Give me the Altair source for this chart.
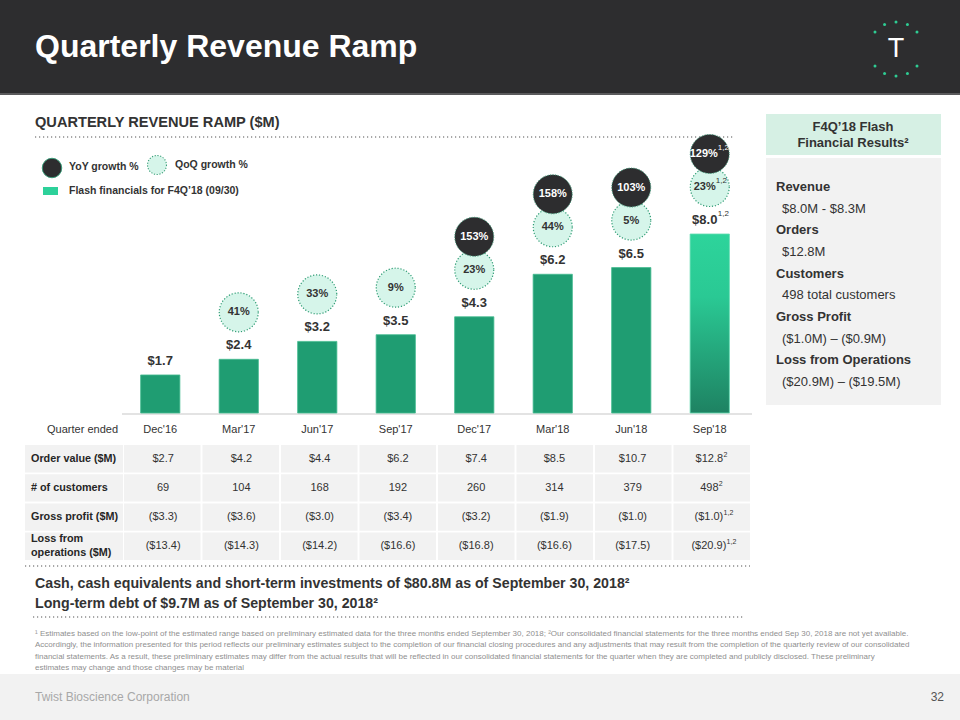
import altair as alt
import pandas as pd

FONT = "Liberation Sans"

# ---------------- data ----------------
quarters = ["Dec'16", "Mar'17", "Jun'17", "Sep'17", "Dec'17", "Mar'18", "Jun'18", "Sep'18"]
revenue = [1.7, 2.4, 3.2, 3.5, 4.3, 6.2, 6.5, 8.0]
revenue_labels = ["$1.7", "$2.4", "$3.2", "$3.5", "$4.3", "$6.2", "$6.5", "$8.0"]
flash = [False, False, False, False, False, False, False, True]

qoq_quarters = ["Mar'17", "Jun'17", "Sep'17", "Dec'17", "Mar'18", "Jun'18", "Sep'18"]
qoq_growth = ["41%", "33%", "9%", "23%", "44%", "5%", "23%"]
yoy_quarters = ["Dec'17", "Mar'18", "Jun'18", "Sep'18"]
yoy_growth = ["153%", "158%", "103%", "129%"]

row_names = ["Order value ($M)", "# of customers", "Gross profit ($M)", "Loss from\noperations ($M)"]
order_value = ["$2.7", "$4.2", "$4.4", "$6.2", "$7.4", "$8.5", "$10.7", "$12.8"]
customers = ["69", "104", "168", "192", "260", "314", "379", "498"]
gross_profit = ["($3.3)", "($3.6)", "($3.0)", "($3.4)", "($3.2)", "($1.9)", "($1.0)", "($1.0)"]
loss_ops = ["($13.4)", "($14.3)", "($14.2)", "($16.6)", "($16.8)", "($16.6)", "($17.5)", "($20.9)"]
last_col_sups = ["2", "2", "1,2", "1,2"]

panel_lines = [
    ("Revenue", True), ("$8.0M - $8.3M", False),
    ("Orders", True), ("$12.8M", False),
    ("Customers", True), ("498 total customers", False),
    ("Gross Profit", True), ("($1.0M) \u2013 ($0.9M)", False),
    ("Loss from Operations", True), ("($20.9M) \u2013 ($19.5M)", False),
]

footnotes = [
    "\u00b9 Estimates based on the low-point of the estimated range based on preliminary estimated data for the three months ended September 30, 2018; \u00b2Our consolidated financial statements for the three months ended Sep 30, 2018 are not yet available.",
    "Accordingly, the information presented for this period reflects our preliminary estimates subject to the completion of our financial closing procedures and any adjustments that may result from the completion of the quarterly review of our consolidated",
    "financial statements. As a result, these preliminary estimates may differ from the actual results that will be reflected in our consolidated financial statements for the quarter when they are completed and publicly disclosed. These preliminary",
    "estimates may change and those changes may be material",
]

logo_angles = [90, 65, 39, 115, 141, 270, 245, 219, 295, 321]

# ---------------- helpers ----------------
dummy = pd.DataFrame({"a": [0]})
SEP18 = "datum.quarter == 'Sep\\'18'"
NOT_SEP18 = "datum.quarter != 'Sep\\'18'"


def txt(s, x, y, size=11, weight="normal", color="#333333", align="left", baseline="middle", font=FONT):
    return alt.Chart(dummy).mark_text(
        text=s, align=align, baseline=baseline, fontSize=size, fontWeight=weight,
        color=color, font=font
    ).encode(x=alt.value(x), y=alt.value(y))


def box(x1, x2, y1, y2, color):
    return alt.Chart(dummy).mark_rect(color=color).encode(
        x=alt.value(x1), x2=alt.value(x2), y=alt.value(y1), y2=alt.value(y2))


def dotted(x1, x2, y):
    return alt.Chart(dummy).mark_rule(color="#8c8c8c", strokeDash=[1.2, 2.8], strokeWidth=1.3).encode(
        x=alt.value(x1), x2=alt.value(x2), y=alt.value(y))


ARIAL_W = {"$": 556, "(": 333, ")": 333, ".": 278, ",": 278}


def half_width(s, size):
    return sum(ARIAL_W.get(c, 556) for c in s) / 1000.0 * size / 2.0


rev_map = dict(zip(quarters, revenue))
bars_df = pd.DataFrame({"quarter": quarters, "revenue": revenue, "label": revenue_labels, "flash": flash})
qoq_df = pd.DataFrame({"quarter": qoq_quarters, "growth": qoq_growth,
                       "revenue": [rev_map[q] for q in qoq_quarters]})
yoy_df = pd.DataFrame({"quarter": yoy_quarters, "growth": yoy_growth,
                       "revenue": [rev_map[q] for q in yoy_quarters]})

xs = alt.Scale(domain=quarters, range=[121, 749], paddingInner=0.5, paddingOuter=0.25)
ys = alt.Scale(domain=[0, 8], range=[413, 234], zero=True, nice=False)
X = alt.X("quarter:N", scale=xs, axis=None, sort=quarters)
Y = alt.Y("revenue:Q", scale=ys, axis=None)

layers = []

# background pieces
layers.append(box(0, 960, 0, 93, "#2d2d2f"))
layers.append(box(0, 960, 93, 95, "#5a5a5c"))
layers.append(box(0, 960, 674, 720, "#f2f2f2"))
layers.append(txt("Quarterly Revenue Ramp", 35, 47, size=32, weight="bold", color="#ffffff"))

# logo
logo_df = pd.DataFrame({"angle": logo_angles})
layers.append(
    alt.Chart(logo_df).transform_calculate(
        px="896 + 27*cos(datum.angle*PI/180)", py="49 - 27*sin(datum.angle*PI/180)"
    ).mark_circle(color="#2ecc93", size=9, opacity=1).encode(
        x=alt.X("px:Q", scale=None), y=alt.Y("py:Q", scale=None))
)
layers.append(txt("T", 896, 49, size=27, color="#ffffff", align="center"))

# section title + dotted rule
layers.append(txt("QUARTERLY REVENUE RAMP ($M)", 35, 123, size=14.6, weight="bold", color="#333333"))
layers.append(dotted(35, 735, 137))

# legend
layers.append(alt.Chart(dummy).mark_point(shape="circle", filled=True, size=380, fill="#2d2d2f",
                                           stroke="#3a9a78", strokeWidth=1, opacity=1).encode(
    x=alt.value(52), y=alt.value(168)))
layers.append(txt("YoY growth %", 69, 167, size=10.5, weight="bold"))
layers.append(alt.Chart(dummy).mark_point(shape="circle", filled=True, size=360, fill="#d6f5ea",
                                           stroke="#3a9f78", strokeWidth=1.1, strokeDash=[1.2, 1.6],
                                           opacity=1).encode(
    x=alt.value(157), y=alt.value(165)))
layers.append(txt("QoQ growth %", 175, 165, size=10.5, weight="bold"))
layers.append(box(43, 58, 187, 195, "#2dd19a"))
layers.append(txt("Flash financials for F4Q\u201918 (09/30)", 69, 191, size=10.5, weight="bold"))

# axis baseline and quarter labels
layers.append(alt.Chart(dummy).mark_rule(color="#e3e3e3", strokeWidth=2).encode(
    x=alt.value(122), x2=alt.value(752), y=alt.value(414)))
layers.append(alt.Chart(bars_df).mark_text(fontSize=11, color="#333333", font=FONT).encode(
    x=X, y=alt.value(430), text="quarter:N"))
layers.append(txt("Quarter ended", 118, 430, size=11, align="right"))

# bars
layers.append(alt.Chart(bars_df).transform_filter("!datum.flash").mark_bar(
    color="#1f9d72", stroke="#45bb90", strokeWidth=0.8).encode(x=X, y=Y))
layers.append(alt.Chart(bars_df).transform_filter("datum.flash").mark_bar(
    color={"gradient": "linear", "x1": 0, "x2": 0, "y1": 0, "y2": 1,
           "stops": [{"offset": 0, "color": "#2dd49b"}, {"offset": 0.35, "color": "#2ac994"},
                     {"offset": 1, "color": "#1e8262"}]},
    stroke="#5fdcb0", strokeWidth=0.8).encode(x=X, y=Y))
layers.append(alt.Chart(bars_df).transform_filter("!datum.flash").mark_text(
    dy=-14, fontSize=13, fontWeight="bold", color="#333333", font=FONT).encode(x=X, y=Y, text="label:N"))
layers.append(alt.Chart(bars_df).transform_filter("datum.flash").mark_text(
    dx=-5, dy=-14, fontSize=13, fontWeight="bold", color="#333333", font=FONT).encode(x=X, y=Y, text="label:N"))
layers.append(alt.Chart(bars_df).transform_filter("datum.flash").mark_text(
    text="1,2", align="left", dx=8, dy=-20, fontSize=8, color="#333333", font=FONT).encode(x=X, y=Y))

# QoQ circles
layers.append(alt.Chart(qoq_df).mark_point(shape="circle", filled=True, size=1520, fill="#d6f5ea",
                                           stroke="#2f9c74", strokeWidth=1.2, strokeDash=[1.2, 1.8],
                                           opacity=1, yOffset=-47).encode(x=X, y=Y))
layers.append(alt.Chart(qoq_df).transform_filter(NOT_SEP18).mark_text(
    dy=-47, fontSize=11, fontWeight="bold", color="#333333", font=FONT).encode(x=X, y=Y, text="growth:N"))
layers.append(alt.Chart(qoq_df).transform_filter(SEP18).mark_text(
    dx=-5, dy=-47, fontSize=11, fontWeight="bold", color="#333333", font=FONT).encode(x=X, y=Y, text="growth:N"))
layers.append(alt.Chart(qoq_df).transform_filter(SEP18).mark_text(
    text="1,2", align="left", dx=6, dy=-53, fontSize=8, color="#333333", font=FONT).encode(x=X, y=Y))

# YoY circles
layers.append(alt.Chart(yoy_df).mark_point(shape="circle", filled=True, size=1520, fill="#2d2d2f",
                                           stroke="#3c9a78", strokeWidth=1, strokeDash=[1.2, 1.4],
                                           opacity=1, yOffset=-80).encode(x=X, y=Y))
layers.append(alt.Chart(yoy_df).transform_filter(NOT_SEP18).mark_text(
    dy=-80, fontSize=11, fontWeight="bold", color="#ffffff", font=FONT).encode(x=X, y=Y, text="growth:N"))
layers.append(alt.Chart(yoy_df).transform_filter(SEP18).mark_text(
    dx=-6, dy=-80, fontSize=11, fontWeight="bold", color="#ffffff", font=FONT).encode(x=X, y=Y, text="growth:N"))
layers.append(alt.Chart(yoy_df).transform_filter(SEP18).mark_text(
    text="1,2", align="left", dx=8, dy=-86, fontSize=8, color="#ffffff", font=FONT).encode(x=X, y=Y))

# table
rows = []
for r, vals in zip(row_names, [order_value, customers, gross_profit, loss_ops]):
    for q, v in zip(quarters, vals):
        rows.append({"row": r, "quarter": q, "value": v})
table_df = pd.DataFrame(rows)
label_df = pd.DataFrame({"row": row_names, "multi": ["\n" in r for r in row_names]})
ts = alt.Scale(domain=quarters, range=[124, 750], paddingInner=0.025, paddingOuter=0)
rs = alt.Scale(domain=row_names, range=[445, 560], paddingInner=0.06, paddingOuter=0)
TX = alt.X("quarter:N", scale=ts, axis=None, sort=quarters)
TY = alt.Y("row:N", scale=rs, axis=None, sort=row_names)

layers.append(alt.Chart(label_df).mark_rect(color="#f2f2f2").encode(
    x=alt.value(25), x2=alt.value(123), y=TY))
layers.append(alt.Chart(table_df).mark_rect(color="#f2f2f2").encode(x=TX, y=TY))
layers.append(alt.Chart(label_df).transform_filter("!datum.multi").mark_text(
    align="left", fontSize=10.8, fontWeight="bold", color="#262626", font=FONT).encode(
    x=alt.value(31), y=TY, text="row:N"))
layers.append(alt.Chart(label_df).transform_filter("datum.multi").mark_text(
    align="left", fontSize=10.8, fontWeight="bold", color="#262626", lineBreak="\n", lineHeight=14,
    dy=-7, font=FONT).encode(x=alt.value(31), y=TY, text="row:N"))
layers.append(alt.Chart(table_df).transform_filter(NOT_SEP18).mark_text(
    fontSize=11, color="#333333", font=FONT).encode(x=TX, y=TY, text="value:N"))
for r, vals, sup in zip(row_names, [order_value, customers, gross_profit, loss_ops], last_col_sups):
    main = vals[-1]
    shift = -2 if len(sup) > 1 else -1.5
    hw = half_width(main, 11)
    mdf = pd.DataFrame({"row": [r], "quarter": [quarters[-1]], "value": [main], "sup": [sup]})
    layers.append(alt.Chart(mdf).mark_text(dx=shift, fontSize=11, color="#333333", font=FONT).encode(
        x=TX, y=TY, text="value:N"))
    layers.append(alt.Chart(mdf).mark_text(align="left", dx=shift + hw + 0.3, dy=-4, fontSize=7,
                                           color="#333333", font=FONT).encode(
        x=TX, y=TY, text="sup:N"))

# cash notes
layers.append(dotted(25, 750, 566))
layers.append(txt("Cash, cash equivalents and short-term investments of $80.8M as of September 30, 2018\u00b2",
                  35, 584, size=14.2, weight="bold", color="#333333"))
layers.append(txt("Long-term debt of $9.7M as of September 30, 2018\u00b2", 35, 604, size=14.2, weight="bold",
                  color="#333333"))
layers.append(dotted(33, 745, 617))

# footnotes
for i, line in enumerate(footnotes):
    layers.append(txt(line, 35, 634 + 11.3 * i, size=8.0, color="#8f8f8f"))

# footer
layers.append(txt("Twist Bioscience Corporation", 35, 697, size=12, color="#a8a8a8"))
layers.append(txt("32", 944, 697, size=12, color="#555555", align="right"))

# right panel
layers.append(box(766, 941, 114, 155, "#d6f0e4"))
layers.append(txt("F4Q\u201918 Flash", 853, 127, size=13, weight="bold", color="#333333", align="center"))
layers.append(txt("Financial Results\u00b2", 853, 143, size=13, weight="bold", color="#333333", align="center"))
layers.append(box(766, 941, 158, 405, "#f2f2f2"))
for i, (line, bold) in enumerate(panel_lines):
    layers.append(txt(line, 776 if bold else 782, 187 + 21.65 * i, size=13,
                      weight="bold" if bold else "normal", color="#333333"))

chart = alt.layer(*layers).resolve_scale(x="independent", y="independent").properties(
    width=960, height=720, autosize=alt.AutoSizeParams(type="none"), padding=0,
    background="#ffffff"
).configure_view(strokeWidth=0)

chart.save("out.html", embed_options={"renderer": "svg", "actions": False})
